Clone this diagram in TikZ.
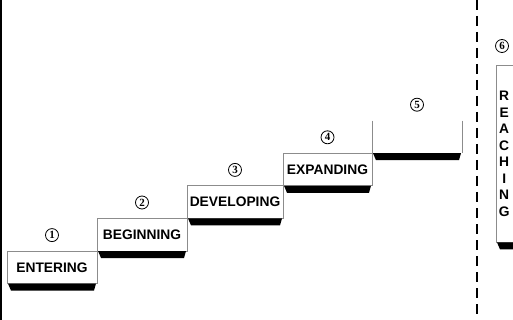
\documentclass[tikz,border=0pt]{standalone}
\usepackage{fontspec}
\setmainfont{Liberation Sans}
\newfontfamily\numfont{Liberation Serif}
\usetikzlibrary{positioning}

\begin{document}
\begin{tikzpicture}[
    x=1pt, y=-1pt,
    node distance=0pt,
    stepbox/.style={rectangle, draw=black!45, line width=0.8pt, fill=white, minimum width=90pt, minimum height=32.6pt, inner sep=0pt, outer sep=0pt, font=\fontsize{13.8}{16}\selectfont\bfseries},
    openbox/.style={rectangle, minimum width=90pt, minimum height=32.6pt, inner sep=0pt, outer sep=0pt},
    edge/.style={draw=black!45, line width=0.8pt},
    num/.style={circle, draw, line width=0.8pt, minimum size=13pt, inner sep=0pt, font=\numfont\fontsize{11}{11}\selectfont\bfseries},
    shadowbar/.style={fill=black},
    border/.style={line width=1.5pt},
    divider/.style={line width=2pt, dash pattern=on 10pt off 6pt}
]

\useasboundingbox (0,0) rectangle (513,320);
\clip (0,0) rectangle (513,320);

% Frame
\draw[border] (0.75,0) -- (0.75,320);

% Divider
\draw[divider] (477,0) -- (477,320);

% Steps
\node[stepbox, anchor=north west] (entering) at (7,251) {ENTERING};
\node[stepbox, above right=of entering] (beginning) {BEGINNING};
\node[stepbox, above right=of beginning, minimum width=96pt] (developing) {DEVELOPING};
\node[stepbox, above right=of developing, minimum width=89pt] (expanding) {EXPANDING};
\node[openbox, above right=of expanding] (fifth) {};
\draw[edge] (fifth.north west) -- (fifth.south west);
\draw[edge] (fifth.north east) -- (fifth.south east);

% Reaching
\node[anchor=north west, text width=16pt, align=center, inner sep=0pt, minimum height=177pt, font=\fontsize{13.8}{16.5}\selectfont\bfseries] (reaching) at (496,65) {R\\E\\A\\C\\H\\I\\N\\G};
\draw[edge] ([xshift=30pt]reaching.north west) -- (reaching.north west) -- (reaching.south west) -- ([xshift=30pt]reaching.south west);

% Shadows
\fill[shadowbar] ([xshift=1pt]entering.south west) -- ([xshift=-1pt]entering.south east) -- ([xshift=-3pt,yshift=-7pt]entering.south east) -- ([xshift=4pt,yshift=-7pt]entering.south west) -- cycle;
\fill[shadowbar] ([xshift=1pt]beginning.south west) -- ([xshift=-1pt]beginning.south east) -- ([xshift=-3pt,yshift=-7pt]beginning.south east) -- ([xshift=4pt,yshift=-7pt]beginning.south west) -- cycle;
\fill[shadowbar] ([xshift=1pt]developing.south west) -- ([xshift=-1pt]developing.south east) -- ([xshift=-3pt,yshift=-7pt]developing.south east) -- ([xshift=4pt,yshift=-7pt]developing.south west) -- cycle;
\fill[shadowbar] ([xshift=1pt]expanding.south west) -- ([xshift=-1pt]expanding.south east) -- ([xshift=-3pt,yshift=-7pt]expanding.south east) -- ([xshift=4pt,yshift=-7pt]expanding.south west) -- cycle;
\fill[shadowbar] ([xshift=1pt]fifth.south west) -- ([xshift=-1pt]fifth.south east) -- ([xshift=-3pt,yshift=-7pt]fifth.south east) -- ([xshift=4pt,yshift=-7pt]fifth.south west) -- cycle;
\fill[shadowbar] ([xshift=1pt]reaching.south west) -- ([xshift=30pt]reaching.south west) -- ([xshift=30pt,yshift=-7pt]reaching.south west) -- ([xshift=4pt,yshift=-7pt]reaching.south west) -- cycle;

% Numbers
\node[num, above=9pt of entering] (n1) {1};
\node[num, above=9pt of beginning] (n2) {2};
\node[num, above=9pt of developing] (n3) {3};
\node[num, above=9pt of expanding] (n4) {4};
\node[num, above=9pt of fifth] (n5) {5};
\node[num] (n6) at (502,46) {6};

\end{tikzpicture}
\end{document}
